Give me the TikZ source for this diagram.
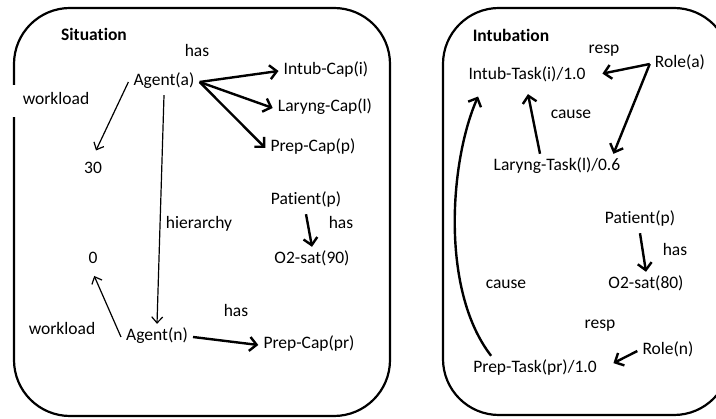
\documentclass[tikz,border=0pt]{standalone}
\usepackage{fontspec}
\setmainfont{Carlito}[Ligatures=NoCommon]
\usepackage{tikz}
\usetikzlibrary{arrows.meta}
\tikzset{
    panel/.style={draw=black, line width=2.2pt, rounded corners=56pt},
    concept/.style={inner sep=5pt, text height=12pt, text depth=4pt, font=\fontsize{17.5}{21}\selectfont},
    relation/.style={concept},
    heading/.style={concept, font=\fontsize{17.5}{21}\selectfont\bfseries},
    thinArrow/.style={-{Straight Barb[length=6pt, width=11pt]}, line width=1.2pt},
    thickArrow/.style={-{Straight Barb[length=7pt, width=14pt]}, line width=2.4pt}
}

\begin{document}
\begin{tikzpicture}[x=1pt, y=-1pt]
    \clip (0,0) rectangle (716,419);

    % Panels
    \draw[panel] (14,8) rectangle (390,416);
    \draw[panel] (443,8) rectangle (730,415);

    % Situation
    \node[heading] (situation) at (94,37) {Situation};
    \node[concept] (agentA) at (164,82) {Agent(a)};
    \node[concept] (intubCap) at (326,71) {Intub-Cap(i)};
    \node[concept] (laryngCap) at (325,108) {Laryng-Cap(l)};
    \node[concept] (prepCap) at (313,148) {Prep-Cap(p)};
    \node[concept] (val30) at (93,170) {30};
    \node[concept] (patientP) at (306,201) {Patient(p)};
    \node[concept] (o2sat90) at (312,260) {O2-sat(90)};
    \node[concept] (val0) at (93,260) {0};
    \node[concept] (agentN) at (157,337) {Agent(n)};
    \node[concept] (prepCapPr) at (309,345) {Prep-Cap(pr)};

    \node[relation] (hasA) at (197,53) {has};
    \node[relation, fill=white, minimum width=92pt, minimum height=32pt] (workloadA) at (56,101) {workload};
    \node[relation] (hierarchy) at (199,225) {hierarchy};
    \node[relation] (hasP) at (341,225) {has};
    \node[relation] (hasN) at (236,313) {has};
    \node[relation] (workloadN) at (62,331) {workload};

    \draw[thinArrow, shorten >=7pt] (agentA.west) -- (val30.north);
    \draw[thinArrow] (agentA.south) -- (agentN.north);
    \draw[thickArrow] (agentA.east) -- (intubCap.west);
    \draw[thickArrow] (agentA.east) -- (laryngCap.west);
    \draw[thickArrow] (agentA.east) -- (prepCap.west);
    \draw[thickArrow] (patientP.south) -- (o2sat90.north);
    \draw[thinArrow, shorten >=3pt] (agentN.west) -- (val0.south);
    \draw[thickArrow] (agentN.east) -- (prepCapPr.west);

    % Intubation
    \node[heading] (intubation) at (511,38) {Intubation};
    \node[concept] (roleA) at (680,64) {Role(a)};
    \node[concept] (intubTask) at (527,76) {Intub-Task(i)/1.0};
    \node[concept] (laryngTask) at (557,167) {Laryng-Task(l)/0.6};
    \node[concept] (patientP2) at (640,220) {Patient(p)};
    \node[concept] (o2sat80) at (646,285) {O2-sat(80)};
    \node[concept] (roleN) at (668,351) {Role(n)};
    \node[concept] (prepTask) at (535,369) {Prep-Task(pr)/1.0};

    \node[relation] (respA) at (604,50) {resp};
    \node[relation] (causeL) at (571,115) {cause};
    \node[relation] (hasP2) at (675,252) {has};
    \node[relation] (causeP) at (506,285) {cause};
    \node[relation] (respN) at (600,325) {resp};

    \draw[thickArrow, shorten >=12pt] (roleA.west) -- (intubTask.east);
    \draw[thickArrow] (roleA.west) -- ([xshift=-12pt]laryngTask.north east);
    \draw[thickArrow, shorten >=5pt] ([xshift=-17pt]laryngTask.north) -- (intubTask.south);
    \draw[thickArrow, shorten >=8pt] ([xshift=23pt]prepTask.north west) .. controls (440,290) and (450,160) .. ([xshift=18pt]intubTask.south west);
    \draw[thickArrow] (patientP2.south) -- (o2sat80.north);
    \draw[thickArrow, shorten >=13pt] (roleN.west) -- (prepTask.east);
\end{tikzpicture}
\end{document}
